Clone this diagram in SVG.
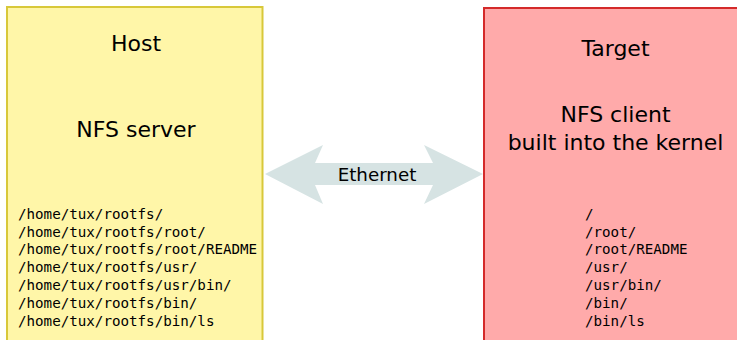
<svg xmlns="http://www.w3.org/2000/svg" width="737" height="340" viewBox="0 0 737 340">
  <style>
    .label { font-family: "DejaVu Sans", "Liberation Sans", sans-serif; fill: #000; text-anchor: middle; }
    .big { font-size: 22px; }
    .link { font-size: 18.3px; }
    .path { font-family: "DejaVu Sans Mono", "Liberation Mono", monospace; font-size: 14.2px; fill: #000; }
    .host { fill: #fff6a8; stroke: #d8c83a; stroke-width: 2; }
    .target { fill: #ffaaaa; stroke: #d42a2a; stroke-width: 2; }
    .wire { fill: #d6e3e3; stroke: none; }
  </style>
  <rect width="737" height="340" fill="#ffffff"/>

  <!-- connectors -->
  <g id="connectors">
    <g id="ethernet">
      <path class="wire" d="M265,174 L323,145 L315,163 L433,163 L424,145 L483,174 L424,204 L433,185 L315,185 L323,204 Z"/>
      <text class="label link" x="377" y="180.5">Ethernet</text>
    </g>
  </g>

  <!-- host machine -->
  <g id="host">
    <rect class="host" x="7" y="7" width="255.5" height="345"/>
    <text class="label big" x="136" y="50.5">Host</text>
    <text class="label big" x="136" y="136.5">NFS server</text>
    <text class="path" x="18" y="218.6">/home/tux/rootfs/</text>
    <text class="path" x="18" y="236.5">/home/tux/rootfs/root/</text>
    <text class="path" x="18" y="254.4">/home/tux/rootfs/root/README</text>
    <text class="path" x="18" y="272.3">/home/tux/rootfs/usr/</text>
    <text class="path" x="18" y="290.2">/home/tux/rootfs/usr/bin/</text>
    <text class="path" x="18" y="308.1">/home/tux/rootfs/bin/</text>
    <text class="path" x="18" y="326">/home/tux/rootfs/bin/ls</text>
  </g>

  <!-- target board -->
  <g id="target">
    <rect class="target" x="484" y="8" width="270" height="345"/>
    <text class="label big" x="615.5" y="56">Target</text>
    <text class="label big" x="615.5" y="122.3">NFS client</text>
    <text class="label big" x="615.5" y="149.5">built into the kernel</text>
    <text class="path" x="585" y="218.6">/</text>
    <text class="path" x="585" y="236.5">/root/</text>
    <text class="path" x="585" y="254.4">/root/README</text>
    <text class="path" x="585" y="272.3">/usr/</text>
    <text class="path" x="585" y="290.2">/usr/bin/</text>
    <text class="path" x="585" y="308.1">/bin/</text>
    <text class="path" x="585" y="326">/bin/ls</text>
  </g>
</svg>
